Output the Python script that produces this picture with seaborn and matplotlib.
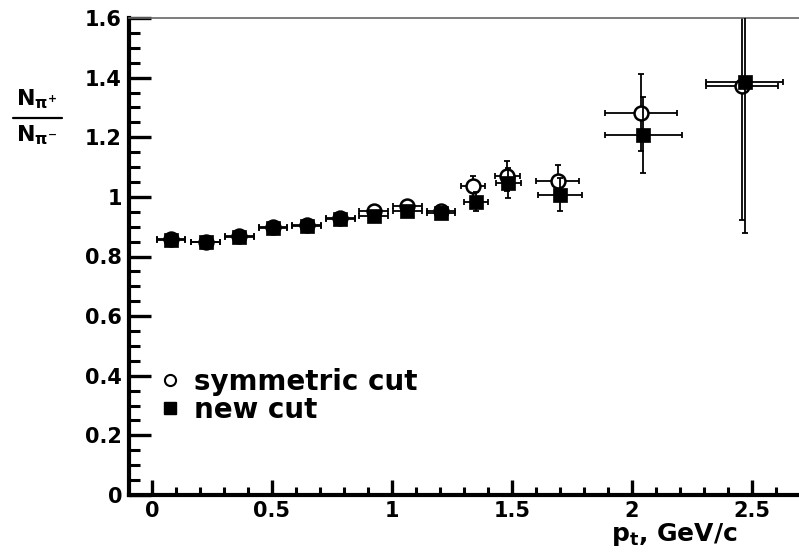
import matplotlib
matplotlib.use("Agg")
import matplotlib.pyplot as plt
from matplotlib.lines import Line2D
from matplotlib.ticker import MultipleLocator
import seaborn as sns
import pandas as pd

# ---- data ----
pt_sym = [0.08, 0.225, 0.365, 0.505, 0.645, 0.785, 0.925, 1.065, 1.205, 1.34, 1.48, 1.69, 2.037, 2.459]
ratio_sym = [0.858, 0.850, 0.870, 0.900, 0.906, 0.930, 0.953, 0.968, 0.952, 1.035, 1.070, 1.052, 1.283, 1.373]
xerr_sym = [0.06, 0.06, 0.06, 0.06, 0.06, 0.06, 0.06, 0.06, 0.06, 0.05, 0.052, 0.09, 0.149, 0.151]
yerr_sym = [0.006, 0.006, 0.006, 0.007, 0.008, 0.009, 0.010, 0.012, 0.022, 0.035, 0.051, 0.056, 0.129, 0.45]

pt_new = [0.08, 0.225, 0.365, 0.505, 0.645, 0.785, 0.925, 1.065, 1.205, 1.35, 1.485, 1.70, 2.047, 2.469]
ratio_new = [0.856, 0.848, 0.867, 0.897, 0.903, 0.925, 0.937, 0.953, 0.945, 0.984, 1.046, 1.007, 1.207, 1.387]
xerr_new = [0.06, 0.06, 0.06, 0.06, 0.06, 0.06, 0.06, 0.06, 0.06, 0.05, 0.052, 0.09, 0.16, 0.161]
yerr_new = [0.005, 0.005, 0.006, 0.007, 0.008, 0.008, 0.009, 0.011, 0.020, 0.033, 0.051, 0.056, 0.127, 0.507]

labels = ["symmetric cut", "new cut"]
xtick_vals = [0, 0.5, 1, 1.5, 2, 2.5]
xtick_labels = ["0", "0.5", "1", "1.5", "2", "2.5"]
ytick_vals = [0, 0.2, 0.4, 0.6, 0.8, 1.0, 1.2, 1.4, 1.6]
ytick_labels = ["0", "0.2", "0.4", "0.6", "0.8", "1", "1.2", "1.4", "1.6"]

sns.set_style("white")
plt.rcParams["font.family"] = ["DejaVu Sans"]
plt.rcParams["font.weight"] = "bold"
plt.rcParams["mathtext.fontset"] = "dejavusans"
for key in ["text.color", "axes.labelcolor", "xtick.color", "ytick.color"]:
    plt.rcParams[key] = "black"

W, H = 799, 557
fig = plt.figure(figsize=(W / 100, H / 100), dpi=100)
ax = fig.add_axes([129 / W, 62 / H, (W - 129) / W, (495 - 18) / H])

df_sym = pd.DataFrame({"pt": pt_sym, "ratio": ratio_sym})
df_new = pd.DataFrame({"pt": pt_new, "ratio": ratio_new})

ax.errorbar(pt_sym, ratio_sym, xerr=xerr_sym, yerr=yerr_sym, fmt="none",
            ecolor="black", elinewidth=1.3, capsize=2.2, capthick=1.3, zorder=2)
sns.scatterplot(data=df_sym, x="pt", y="ratio", marker="o", s=100,
                facecolor="white", edgecolor="black", linewidth=1.8, ax=ax, zorder=3)
ax.errorbar(pt_new, ratio_new, xerr=xerr_new, yerr=yerr_new, fmt="none",
            ecolor="black", elinewidth=1.3, capsize=2.2, capthick=1.3, zorder=4)
sns.scatterplot(data=df_new, x="pt", y="ratio", marker="s", s=90,
                color="black", edgecolor="black", linewidth=0.5, ax=ax, zorder=5)

ax.set_xlim(-0.095, 2.696)
ax.set_ylim(0, 1.6)
ax.xaxis.set_minor_locator(MultipleLocator(0.1))
ax.yaxis.set_minor_locator(MultipleLocator(0.05))
ax.set_xticks(xtick_vals)
ax.set_xticklabels(xtick_labels)
ax.set_yticks(ytick_vals)
ax.set_yticklabels(ytick_labels)

ax.tick_params(axis="y", which="major", direction="in", length=16, width=2.4,
               labelsize=15, pad=5, left=True, colors="black")
ax.tick_params(axis="y", which="minor", direction="in", length=8, width=2.2, left=True,
               colors="black")
ax.tick_params(axis="x", which="major", direction="in", length=11, width=2.4,
               labelsize=15, pad=4, bottom=True, colors="black")
ax.tick_params(axis="x", which="minor", direction="in", length=5.5, width=2.2, bottom=True,
               colors="black")
for lab in ax.get_xticklabels() + ax.get_yticklabels():
    lab.set_fontweight("bold")

for s in ["left", "bottom"]:
    ax.spines[s].set_linewidth(3.0)
    ax.spines[s].set_color("black")
ax.spines["top"].set_linewidth(1.2)
ax.spines["top"].set_color("#666666")
ax.spines["right"].set_visible(False)

ax.set_xlabel("")
ax.set_ylabel("")

# x axis title
fig.text(738 / W, 1 - 541 / H, r"$\mathbf{p_{t}}$, GeV/c", ha="right", va="baseline",
         fontsize=18, fontweight="bold", color="black")

# y axis title as a fraction
fig.text(37 / W, 1 - 99 / H, r"$\mathbf{N_{\pi^{+}}}$", ha="center", va="center",
         fontsize=16, fontweight="bold", color="black")
fig.text(37 / W, 1 - 135 / H, r"$\mathbf{N_{\pi^{-}}}$", ha="center", va="center",
         fontsize=16, fontweight="bold", color="black")
fig.add_artist(Line2D([13 / W, 62 / W], [1 - 118 / H, 1 - 118 / H],
                      transform=fig.transFigure, color="black", linewidth=1.6))

handles = [
    Line2D([], [], marker="o", linestyle="none", markerfacecolor="white",
           markeredgecolor="black", markeredgewidth=1.5, markersize=8),
    Line2D([], [], marker="s", linestyle="none", markerfacecolor="black",
           markeredgecolor="black", markersize=8),
]
leg = ax.legend(handles, labels, loc="upper left",
                bbox_to_anchor=(151 / W, 1 - 357 / H), bbox_transform=fig.transFigure,
                frameon=False, handlelength=0.6, handletextpad=0.55,
                labelspacing=0.0, borderaxespad=0,
                prop={"weight": "bold", "size": 20})
for t in leg.get_texts():
    t.set_color("black")

fig.savefig("out.png", dpi=100, facecolor="white")
